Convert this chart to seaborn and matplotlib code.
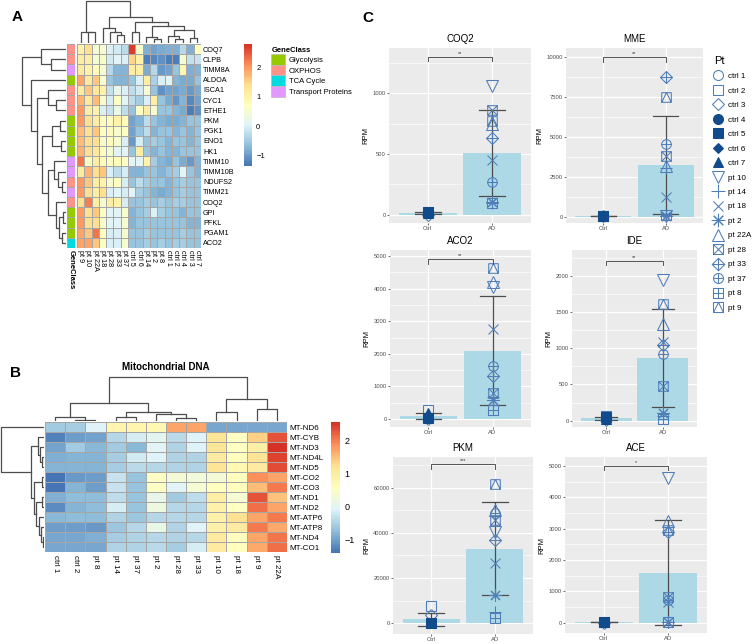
import matplotlib
matplotlib.use("Agg")
import matplotlib.pyplot as plt
import numpy as np
import pandas as pd
import seaborn as sns
from matplotlib.colors import LinearSegmentedColormap, ListedColormap
from matplotlib.lines import Line2D
from matplotlib.patches import Patch
from matplotlib.path import Path
from matplotlib.ticker import MultipleLocator, AutoMinorLocator

# ---------------- data: panel A (nuclear genes heatmap) ----------------
A_ROWS = ["COQ7", "CLPB", "TIMM8A", "ALDOA", "ISCA1", "CYC1", "ETHE1", "PKM",
          "PGK1", "ENO1", "HK1", "TIMM10", "TIMM10B", "NDUFS2", "TIMM21",
          "COQ2", "GPI", "PFKL", "PGAM1", "ACO2"]
A_COLS = ["pt 9", "pt 10", "pt 22A", "pt 18", "pt 28", "pt 33", "pt 37",
          "ctrl 5", "ctrl 6", "pt 14", "pt 2", "pt 8", "ctrl 1", "ctrl 2",
          "ctrl 4", "ctrl 3", "ctrl 7"]
A_CLASS = ["OXPHOS", "OXPHOS", "Transport Proteins", "Glycolysis", "OXPHOS",
           "OXPHOS", "OXPHOS", "Glycolysis", "Glycolysis", "Glycolysis",
           "Glycolysis", "Transport Proteins", "Transport Proteins", "OXPHOS",
           "Transport Proteins", "OXPHOS", "Glycolysis", "Glycolysis",
           "Glycolysis", "TCA Cycle"]
A_VALUES = [
    [1.0, 1.4, 0.5, 0.5, 0.0, -0.1, -0.3, 2.7, 0.6, -0.8, -0.9, -0.85, -0.8, -0.8, -0.35, -0.8, 0.7],
    [1.1, 1.1, 0.5, 0.6, -0.1, 0.1, 0.0, 1.5, 1.0, -1.25, -1.15, -1.1, -1.25, -1.25, 0.55, -0.2, -0.15],
    [1.15, 1.0, 0.8, 0.5, -0.35, -0.75, -0.75, 1.1, 1.1, -0.85, -0.35, -1.0, -0.9, -0.6, 0.9, -0.8, -0.75],
    [1.9, 1.2, 1.6, 0.5, -0.6, -0.75, -0.75, -0.6, 0.0, 1.1, -0.4, 0.0, 0.1, -0.75, -0.85, -0.85, -0.6],
    [1.1, 1.6, 1.25, 1.0, -0.2, 0.2, 0.0, -0.25, -0.1, 0.5, -0.6, -1.1, -0.9, -0.9, -0.85, -1.0, -0.85],
    [1.8, 1.25, 1.7, 0.55, -0.05, 0.65, 0.1, -0.25, -0.45, 0.0, 1.1, -0.6, -0.85, -1.05, -0.75, -1.15, -0.9],
    [2.0, 1.1, 1.0, 0.0, -0.15, 0.25, -0.25, -0.6, 0.65, 1.1, 0.55, -0.6, -0.6, -0.75, -0.85, -1.25, -1.1],
    [2.0, 1.4, 1.1, 0.65, 0.8, 1.0, 0.8, -0.9, -0.75, -0.25, -0.6, -0.75, -0.85, -0.85, -0.75, -0.6, -0.6],
    [1.7, 1.4, 1.6, 0.65, 0.8, 0.55, 0.65, -0.9, -0.6, -0.25, -0.75, -0.6, -0.6, -0.75, -0.6, -0.75, -0.6],
    [1.7, 1.4, 1.4, 0.55, 0.8, 0.55, 0.0, -1.0, -0.05, -0.6, -0.45, -0.6, -0.75, -0.6, -0.6, -0.75, -0.6],
    [1.8, 1.4, 1.25, 0.65, 0.55, 0.1, 0.1, -0.6, 1.1, -0.6, -0.75, -0.6, -0.75, -0.75, -0.6, -0.6, -0.6],
    [2.3, 0.8, 1.1, 0.8, 0.65, 0.8, 0.65, 0.1, 0.1, 1.0, -0.45, -0.75, -0.85, -0.6, -0.85, -1.0, -0.75],
    [1.15, 1.8, 1.4, 1.6, 0.0, -0.25, -0.05, -0.75, -0.75, -0.6, -0.6, -0.75, -0.6, -0.45, 0.1, -0.6, -0.75],
    [2.0, 1.6, 1.1, 1.0, 0.55, 0.65, -0.05, -0.6, -0.25, -0.45, -0.6, -0.6, -0.75, -0.6, -0.45, -0.6, -0.6],
    [2.0, 1.4, 1.1, 1.4, 0.0, 0.1, -0.05, 0.1, -0.45, -0.6, -0.75, -0.85, -0.75, -0.6, -0.45, -0.6, -0.6],
    [1.4, 2.2, 1.1, 0.55, 1.1, 1.0, -0.05, -0.6, -0.6, -0.45, -0.6, -0.45, -0.6, -0.45, -0.45, -0.6, -0.6],
    [2.0, 1.4, 1.6, 0.65, 0.1, 0.1, 0.55, -0.75, -0.6, -0.45, 0.0, -0.45, -0.6, -0.6, -0.75, -0.6, -0.6],
    [2.0, 1.4, 1.4, 0.55, 0.1, 0.1, 0.55, -0.75, -0.6, -0.6, -0.6, -0.6, -0.6, -0.6, -0.6, -0.75, -0.75],
    [1.9, 1.6, 2.3, 0.65, -0.05, 0.0, 0.55, -0.6, -0.6, -0.45, -0.6, -0.6, -0.6, -0.6, -0.45, -0.6, -0.6],
    [1.9, 1.9, 1.6, 0.65, 0.0, 0.0, 0.55, -0.6, -0.6, -0.45, -0.6, -0.45, -0.6, -0.45, -0.45, -0.6, -0.6],
]
A_RANGE = (-1.35, 2.8)
# dendrograms: (child, child, height); leaves are 0..n-1 in display order,
# merged nodes are numbered n, n+1, ... in list order
A_ROW_TREE = [(1, 2, 15), (0, 20, 25), (5, 6, 10), (4, 22, 18), (7, 8, 6),
              (9, 10, 5), (24, 25, 14), (13, 14, 4), (12, 27, 8), (11, 28, 12),
              (16, 17, 3), (18, 19, 4), (30, 31, 7), (15, 32, 10), (29, 33, 18),
              (26, 34, 24), (23, 35, 29), (3, 36, 35), (21, 37, 44)]
A_COL_TREE = [(1, 2, 11), (0, 17, 12), (5, 6, 8), (4, 19, 11), (3, 20, 16),
              (7, 8, 12), (10, 11, 4), (9, 23, 6), (13, 14, 4), (12, 25, 7),
              (15, 16, 5), (26, 27, 14), (24, 28, 18), (22, 29, 22), (21, 30, 27),
              (18, 31, 44)]
CLASS_NAMES = ["Glycolysis", "OXPHOS", "TCA Cycle", "Transport Proteins"]

# ---------------- data: panel B (mitochondrial DNA heatmap) ----------------
B_ROWS = ["MT-ND6", "MT-CYB", "MT-ND3", "MT-ND4L", "MT-ND5", "MT-CO2", "MT-CO3",
          "MT-ND1", "MT-ND2", "MT-ATP6", "MT-ATP8", "MT-ND4", "MT-CO1"]
B_COLS = ["ctrl 1", "ctrl 2", "pt 8", "pt 14", "pt 37", "pt 2", "pt 28",
          "pt 33", "pt 10", "pt 18", "pt 9", "pt 22A"]
B_VALUES = [
    [-0.6, -0.55, -0.1, 0.8, 0.8, 0.75, 1.7, 1.7, -0.95, -0.95, -0.95, -0.95],
    [-1.3, -1.05, -1.0, -0.45, -0.15, 0.0, -0.4, -0.1, 1.1, 0.5, 1.35, 2.3],
    [-1.0, -0.6, -0.8, -0.6, -0.8, -0.05, -0.5, -0.1, 1.1, 0.55, 0.9, 2.55],
    [-0.9, -0.85, -0.85, -0.55, -0.2, -0.1, -0.5, -0.5, 1.0, 0.6, 1.15, 2.4],
    [-0.85, -0.85, -0.85, -0.55, -0.4, -0.45, -0.5, -0.5, 1.15, 0.7, 1.0, 2.35],
    [-1.4, -1.1, -1.05, -0.3, -0.7, 0.5, 0.3, 0.25, 0.3, 0.6, 1.85, 1.7],
    [-1.4, -0.85, -1.05, -0.3, -0.7, 0.5, -0.05, 0.35, 0.55, 0.6, 1.5, 2.0],
    [-0.9, -0.75, -0.75, -0.35, -0.7, 0.05, -0.6, -0.35, 0.95, 0.35, 2.3, 1.45],
    [-1.2, -0.85, -0.75, -0.15, -0.7, 0.2, -0.45, -0.45, 0.85, 0.55, 2.1, 1.7],
    [-0.8, -0.75, -0.75, -0.5, -0.65, -0.45, -0.45, -0.45, 0.85, 1.2, 1.7, 2.0],
    [-1.05, -1.05, -1.1, -0.65, -0.45, 0.1, -0.5, -0.1, 0.85, 1.0, 2.0, 1.65],
    [-0.95, -0.95, -0.9, -0.55, -0.5, -0.45, -0.5, -0.45, 1.0, 0.6, 1.7, 2.05],
    [-0.95, -0.95, -0.95, -0.5, -0.5, -0.4, -0.55, -0.15, 1.0, 0.6, 1.65, 2.1],
]
B_RANGE = (-1.42, 2.55)
B_ROW_TREE = [(3, 4, 2), (2, 13, 4), (1, 14, 6), (5, 6, 2), (7, 8, 2), (11, 12, 1),
              (10, 18, 3), (9, 19, 5), (17, 20, 8), (16, 21, 10), (15, 22, 14),
              (0, 23, 45)]
B_COL_TREE = [(1, 2, 1), (0, 12, 4), (3, 4, 4), (6, 7, 3), (5, 15, 7), (14, 16, 9),
              (13, 17, 19), (8, 9, 9), (10, 11, 13), (19, 20, 23), (18, 21, 46)]

# ---------------- data: panel C (RPM per patient) ----------------
PATIENTS = ["ctrl 1", "ctrl 2", "ctrl 3", "ctrl 4", "ctrl 5", "ctrl 6", "ctrl 7",
            "pt 10", "pt 14", "pt 18", "pt 2", "pt 22A", "pt 28", "pt 33",
            "pt 37", "pt 8", "pt 9"]
GROUP = ["Ctrl"] * 7 + ["AD"] * 10
GROUP_ORDER = ["Ctrl", "AD"]
GENES = ["COQ2", "MME", "ACO2", "IDE", "PKM", "ACE"]
COQ2 = [20, 25, 3, 22, 28, 18, 12, 1060, 100, 447, 110, 750, 865, 630, 274, 96, 770]
MME = [30, 45, 10, 60, 70, 40, 25, 30, 3050, 1260, 20, 3150, 3790, 8740, 4590, 80, 7530]
ACO2 = [40, 280, 10, 50, 30, 60, 190, 4040, 680, 2750, 580, 4210, 790, 1320, 1635, 275, 4630]
IDE = [30, 60, 5, 40, 55, 35, 20, 1940, 60, 1080, 100, 1340, 478, 1050, 915, 25, 1610]
PKM = [200, 7570, 3500, 100, 150, 80, 120, 40300, 5100, 26600, 12660, 49900, 45850,
       36800, 48800, 2180, 61400]
ACE = [15, 30, 5, 25, 35, 20, 10, 4615, 15, 660, 20, 3260, 820, 2880, 720, 10, 2960]
SIGNIF = ["**", "**", "**", "**", "***", "*"]
SIGNIF_Y = [1296, 10000, 4900, 2207, 70300, 5000]

# ---------------- style ----------------
W, H = 753, 644
HEAT_COLORS = ["#4575B4", "#91BFDB", "#E0F3F8", "#FFFFBF", "#FEE090", "#FC8D59", "#D73027"]
CLASS_COLORS = ["#96CA00", "#FF9289", "#00DAE0", "#E199FF"]
TREE_COLOR = "#4D4D4D"
CELL_EDGE = "#A6A6A6"
OPEN_BLUE = "#4F7DB8"
DARK_BLUE = "#114B8B"

plt.rcParams["font.family"] = ["Liberation Sans", "DejaVu Sans"]
heat_cmap = LinearSegmentedColormap.from_list("pheat", HEAT_COLORS, N=100)

fig = plt.figure(figsize=(W / 100, H / 100), dpi=100)


def box(x0, y0, x1, y1):
    return fig.add_axes([x0 / W, 1 - y1 / H, (x1 - x0) / W, (y1 - y0) / H])


def draw_tree(ax, merges, n, side):
    pos = [i + 0.5 for i in range(n)]
    hgt = [0.0] * n
    for a, b, h in merges:
        xs = [pos[a], pos[a], pos[b], pos[b]]
        ys = [hgt[a], h, h, hgt[b]]
        if side == "top":
            ax.plot(xs, ys, color=TREE_COLOR, lw=0.9)
        else:
            ax.plot(ys, xs, color=TREE_COLOR, lw=0.9)
        pos.append((pos[a] + pos[b]) / 2)
        hgt.append(h)
    top = max(hgt)
    if side == "top":
        ax.set_xlim(0, n)
        ax.set_ylim(0, top * 1.02)
    else:
        ax.set_ylim(n, 0)
        ax.set_xlim(top * 1.02, 0)
    ax.axis("off")


def style_cbar(cax, size):
    cax.set_yticks([-1, 0, 1, 2])
    cax.tick_params(length=0, labelsize=size, pad=3)
    for s in cax.spines.values():
        s.set_visible(False)


# ---------------- panel A ----------------
fig.text(12 / W, 1 - 17 / H, "A", fontsize=11, fontweight="bold", va="center")
a_df = pd.DataFrame(A_VALUES, index=A_ROWS, columns=A_COLS)
ax_a = box(77, 44, 201, 248)
cax_a = box(244, 44, 252, 166)
sns.heatmap(a_df, ax=ax_a, cmap=heat_cmap, vmin=A_RANGE[0], vmax=A_RANGE[1],
            cbar_ax=cax_a, linewidths=0.4, linecolor=CELL_EDGE,
            xticklabels=True, yticklabels=True)
ax_a.yaxis.tick_right()
ax_a.set_yticklabels(A_ROWS, rotation=0, fontsize=5.2)
ax_a.set_xticklabels(A_COLS, rotation=270, fontsize=5.2)
ax_a.tick_params(length=0, pad=1.5)
style_cbar(cax_a, 5.5)

ax_ann = box(67, 44, 75, 248)
codes = pd.DataFrame({"GeneClass": [CLASS_NAMES.index(c) for c in A_CLASS]}, index=A_ROWS)
sns.heatmap(codes, ax=ax_ann, cmap=ListedColormap(CLASS_COLORS), vmin=-0.5, vmax=3.5,
            cbar=False, linewidths=0.4, linecolor=CELL_EDGE,
            xticklabels=True, yticklabels=False)
ax_ann.set_xticklabels(["GeneClass"], rotation=270, fontsize=5.5, fontweight="bold")
ax_ann.tick_params(length=0, pad=1.5)

draw_tree(box(77, 0, 201, 43), A_COL_TREE, len(A_COLS), "top")
draw_tree(box(21, 44, 66, 248), A_ROW_TREE, len(A_ROWS), "left")

fig.legend(handles=[Patch(facecolor=c, edgecolor="#BBBBBB", lw=0.5) for c in CLASS_COLORS],
           labels=CLASS_NAMES, title="GeneClass", loc="upper left",
           bbox_to_anchor=(266 / W, 1 - 42 / H), frameon=False, fontsize=5.5,
           title_fontproperties={"weight": "bold", "size": 5.5},
           handlelength=1.8, handleheight=1.75, labelspacing=0.0,
           handletextpad=0.5, borderpad=0.2, alignment="left")

# ---------------- panel B ----------------
fig.text(10 / W, 1 - 373 / H, "B", fontsize=11, fontweight="bold", va="center")
fig.text(166 / W, 1 - 367 / H, "Mitochondrial DNA", fontsize=7, fontweight="bold",
         ha="center", va="center")
b_df = pd.DataFrame(B_VALUES, index=B_ROWS, columns=B_COLS)
ax_b = box(45, 422, 287, 552)
cax_b = box(331, 422, 340, 553)
sns.heatmap(b_df, ax=ax_b, cmap=heat_cmap, vmin=B_RANGE[0], vmax=B_RANGE[1],
            cbar_ax=cax_b, linewidths=0.4, linecolor=CELL_EDGE,
            xticklabels=True, yticklabels=True)
ax_b.yaxis.tick_right()
ax_b.set_yticklabels(B_ROWS, rotation=0, fontsize=5.8)
ax_b.set_xticklabels(B_COLS, rotation=270, fontsize=5.8)
ax_b.tick_params(length=0, pad=2)
style_cbar(cax_b, 6.5)
draw_tree(box(45, 376, 287, 421), B_COL_TREE, len(B_COLS), "top")
draw_tree(box(0, 422, 44, 552), B_ROW_TREE, len(B_ROWS), "left")

# ---------------- panel C ----------------
fig.text(362 / W, 1 - 18 / H, "C", fontsize=11, fontweight="bold", va="center")


def compound(*parts):
    return Path.make_compound_path(*parts)


SQ = Path([(-1, -1), (1, -1), (1, 1), (-1, 1), (-1, -1)],
          [Path.MOVETO, Path.LINETO, Path.LINETO, Path.LINETO, Path.CLOSEPOLY])
DIA = Path([(0, -1.3), (1.3, 0), (0, 1.3), (-1.3, 0), (0, -1.3)],
           [Path.MOVETO, Path.LINETO, Path.LINETO, Path.LINETO, Path.CLOSEPOLY])
X_LINES = Path([(-1, -1), (1, 1), (-1, 1), (1, -1)],
               [Path.MOVETO, Path.LINETO, Path.MOVETO, Path.LINETO])
PLUS_SQ = Path([(-1, 0), (1, 0), (0, -1), (0, 1)],
               [Path.MOVETO, Path.LINETO, Path.MOVETO, Path.LINETO])
PLUS_DIA = Path([(-1.3, 0), (1.3, 0), (0, -1.3), (0, 1.3)],
                [Path.MOVETO, Path.LINETO, Path.MOVETO, Path.LINETO])
TRI_IN = Path([(-1, -1), (0, 1), (1, -1)], [Path.MOVETO, Path.LINETO, Path.LINETO])
CIRC = Path.unit_circle()

MARKERS = {
    "ctrl 1": ("o", False, 6.0), "ctrl 2": ("s", False, 6.0), "ctrl 3": ("D", False, 5.5),
    "ctrl 4": ("o", True, 6.0), "ctrl 5": ("s", True, 6.0), "ctrl 6": ("D", True, 4.5),
    "ctrl 7": ("^", True, 6.5), "pt 10": ("v", False, 7.0), "pt 14": ("+", False, 8.0),
    "pt 18": ("x", False, 6.5), "pt 2": ((8, 2, 0), False, 8.0), "pt 22A": ("^", False, 7.0),
    "pt 28": (compound(SQ, X_LINES), False, 6.0), "pt 33": (compound(DIA, PLUS_DIA), False, 7.5),
    "pt 37": (compound(CIRC, PLUS_SQ), False, 6.0), "pt 8": (compound(SQ, PLUS_SQ), False, 6.0),
    "pt 9": (compound(SQ, TRI_IN), False, 6.0),
}


def marker_kw(pt, scale=1.0):
    m, filled, ms = MARKERS[pt]
    col = DARK_BLUE if filled else OPEN_BLUE
    return dict(marker=m, ms=ms * scale, mfc=col if filled else "none", mec=col,
                mew=0.75, ls="none")


C_RECTS = [(389, 48, 531, 223), (566, 48, 703, 223), (390, 250, 531, 427),
           (572, 250, 697, 427), (393, 457, 533, 634), (565, 457, 707, 633)]
C_STEPS = [500, 2500, 1000, 500, 20000, 1000]
C_YLIMS = [(-66, 1370), (-400, 10590), (-245, 5184), (-87, 2354), (-4800, 73500), (-330, 5288)]
gene_values = [COQ2, MME, ACO2, IDE, PKM, ACE]

for gene, vals, sig, sig_y, rect, step, ylim in zip(GENES, gene_values, SIGNIF, SIGNIF_Y,
                                                    C_RECTS, C_STEPS, C_YLIMS):
    ax = box(*rect)
    df = pd.DataFrame({"Pt": PATIENTS, "Group": GROUP, "RPM": vals})
    sns.barplot(data=df, x="Group", y="RPM", order=GROUP_ORDER, color="#ADD8E6",
                saturation=1, width=0.9, errorbar="sd", capsize=0.4,
                err_kws={"color": "#4D4D4D", "linewidth": 0.9}, ax=ax)
    for pt, grp, v in zip(PATIENTS, GROUP, vals):
        ax.plot(GROUP_ORDER.index(grp), v, **marker_kw(pt, 1.15))
    tip = (ylim[1] - ylim[0]) * 0.025
    ax.plot([0, 0, 1, 1], [sig_y - tip, sig_y, sig_y, sig_y - tip], color="#555555", lw=0.7)
    ax.text(0.5, sig_y + tip * 0.2, sig, ha="center", va="bottom", fontsize=4, color="#333333")
    ax.set_xlim(-0.6, 1.6)
    ax.set_ylim(*ylim)
    ax.yaxis.set_major_locator(MultipleLocator(step))
    ax.yaxis.set_minor_locator(AutoMinorLocator(2))
    ax.set_facecolor("#EBEBEB")
    ax.grid(which="major", color="white", lw=0.9)
    ax.grid(which="minor", axis="y", color="white", lw=0.45)
    ax.set_axisbelow(True)
    for s in ax.spines.values():
        s.set_visible(False)
    ax.tick_params(axis="both", which="major", length=1.5, width=0.5, color="#333333",
                   labelsize=4.2, labelcolor="#4D4D4D", pad=1)
    ax.tick_params(which="minor", length=0)
    ax.set_xlabel("")
    ax.set_ylabel("RPM", fontsize=5.5, labelpad=2)
    ax.set_title(gene, fontsize=7, pad=4)

handles = [Line2D([], [], **marker_kw(pt, 1.2)) for pt in PATIENTS]
fig.legend(handles=handles, labels=PATIENTS, title="Pt", loc="upper left",
           bbox_to_anchor=(708 / W, 1 - 50 / H), frameon=False, fontsize=5.8,
           title_fontsize=8, labelspacing=0.85, handlelength=1.2, handletextpad=0.6,
           borderpad=0.2, alignment="left")

fig.savefig("out.png", dpi=100)
